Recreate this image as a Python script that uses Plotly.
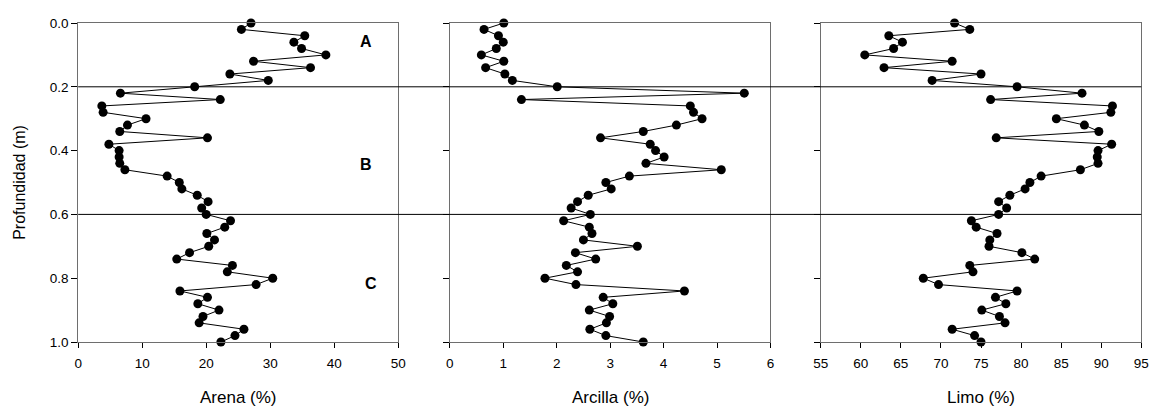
import plotly.graph_objects as go

depth = [round(i * 0.02, 2) for i in range(51)]

arena = [27.0, 25.5, 35.4, 33.7, 34.9, 38.7, 27.4, 36.3, 23.7, 29.7,
         18.2, 6.6, 22.2, 3.7, 3.9, 10.6, 7.7, 6.5, 20.2, 4.8,
         6.4, 6.4, 6.5, 7.3, 13.9, 15.8, 16.2, 18.6, 20.3, 19.3,
         20.0, 23.8, 22.9, 20.1, 21.3, 20.4, 17.4, 15.4, 24.1, 23.3,
         30.4, 27.8, 15.9, 20.2, 18.7, 22.0, 19.5, 18.9, 25.9, 24.5,
         22.3]

arcilla = [1.01, 0.64, 0.91, 1.00, 0.87, 0.59, 1.01, 0.67, 1.03, 1.17,
           2.01, 5.51, 1.34, 4.50, 4.56, 4.72, 4.24, 3.62, 2.82, 3.75,
           3.85, 4.01, 3.67, 5.08, 3.36, 2.92, 3.02, 2.59, 2.39, 2.27,
           2.63, 2.13, 2.61, 2.66, 2.50, 3.51, 2.35, 2.73, 2.18, 2.39,
           1.78, 2.36, 4.39, 2.87, 3.05, 2.61, 2.99, 2.93, 2.62, 2.92,
           3.62]

limo = [71.7, 73.6, 63.5, 65.2, 64.1, 60.5, 71.4, 62.9, 75.0, 68.9,
        79.5, 87.6, 76.2, 91.4, 91.2, 84.4, 87.9, 89.7, 76.9, 91.3,
        89.6, 89.5, 89.6, 87.4, 82.5, 81.1, 80.5, 78.6, 77.2, 78.2,
        77.2, 73.8, 74.4, 77.0, 76.1, 76.0, 80.1, 81.7, 73.6, 74.0,
        67.8, 69.7, 79.5, 76.8, 78.1, 75.1, 77.3, 78.0, 71.4, 74.2,
        75.0]

x_titles = ["Arena (%)", "Arcilla (%)", "Limo (%)"]
y_title = "Profundidad (m)"
x_ranges = [[0, 50], [0, 6], [55, 95]]
x_dtick = [10, 1, 5]
y_ticks = [0.0, 0.2, 0.4, 0.6, 0.8, 1.0]
y_ticklabels = ["0.0", "0.2", "0.4", "0.6", "0.8", "1.0"]
zone_lines = [0.2, 0.6]
zone_labels = ["A", "B", "C"]
zone_label_x = [44.9, 44.9, 45.8]
zone_label_y = [0.058, 0.443, 0.817]

# page has an 8px body margin; figure is sized to fill the rest of the window
OFF = 8
W, H = 1160 - OFF, 408 - OFF
ml, mr, mt, mb = 52, 8, 10, 66
pw = W - ml - mr
ph = H - mt - mb
px_domains = [(78.3, 400.7), (452.7, 775.7), (826.3, 1149.3)]
domains = [[(a - OFF - ml) / pw, (b - OFF - ml) / pw] for a, b in px_domains]

fig = go.Figure()
series = [arena, arcilla, limo]
font_family = "Arial, Liberation Sans, sans-serif"

for i, vals in enumerate(series):
    xa = "x" if i == 0 else f"x{i+1}"
    ya = "y" if i == 0 else f"y{i+1}"
    fig.add_trace(go.Scatter(
        x=vals, y=depth, xaxis=xa, yaxis=ya, mode="lines+markers",
        line=dict(color="black", width=1),
        marker=dict(color="black", size=9, symbol="circle"),
        cliponaxis=False, showlegend=False, hoverinfo="skip"))

axis_line = "#6e6e6e"
layout = dict(
    width=W, height=H, margin=dict(l=ml, r=mr, t=mt, b=mb),
    paper_bgcolor="white", plot_bgcolor="white",
    font=dict(family=font_family, size=13.5, color="black"),
)
for i in range(3):
    xk = "xaxis" if i == 0 else f"xaxis{i+1}"
    yk = "yaxis" if i == 0 else f"yaxis{i+1}"
    ya = "y" if i == 0 else f"y{i+1}"
    xa = "x" if i == 0 else f"x{i+1}"
    layout[xk] = dict(
        domain=domains[i], anchor=ya, range=x_ranges[i], dtick=x_dtick[i],
        tick0=x_ranges[i][0],
        showgrid=False, zeroline=False, showline=True, mirror=True,
        linecolor=axis_line, linewidth=1, ticks="outside", ticklen=5,
        tickcolor="black", tickfont=dict(size=13.5), ticklabelstandoff=4)
    layout[yk] = dict(
        domain=[0, 1], anchor=xa, range=[1.0, 0.0],
        tickvals=y_ticks, ticktext=y_ticklabels,
        showticklabels=(i == 0),
        showgrid=False, zeroline=False, showline=True, mirror=True,
        linecolor=axis_line, linewidth=1, ticks="outside", ticklen=6,
        tickcolor="black", tickfont=dict(size=13.5))
fig.update_layout(**layout)

for yv in zone_lines:
    fig.add_shape(type="line", xref="paper", yref="y",
                  x0=domains[0][0], x1=domains[2][1], y0=yv, y1=yv,
                  line=dict(color="black", width=1))

for lab, lx, ly in zip(zone_labels, zone_label_x, zone_label_y):
    fig.add_annotation(x=lx, y=ly, xref="x", yref="y", text=f"<b>{lab}</b>",
                       showarrow=False, font=dict(size=16, color="black"))

# axis titles as annotations for exact placement
for i, t in enumerate(x_titles):
    fig.add_annotation(x=(domains[i][0] + domains[i][1]) / 2, y=-56 / ph,
                       xref="paper", yref="paper", text=t, showarrow=False,
                       xanchor="center", yanchor="middle",
                       font=dict(size=17, color="black"))
fig.add_annotation(x=(19 - OFF - ml) / pw, y=0.5, xref="paper", yref="paper",
                   text=y_title, textangle=-90, showarrow=False,
                   xanchor="center", yanchor="middle",
                   font=dict(size=16, color="black"))

fig.write_html("out.html")
